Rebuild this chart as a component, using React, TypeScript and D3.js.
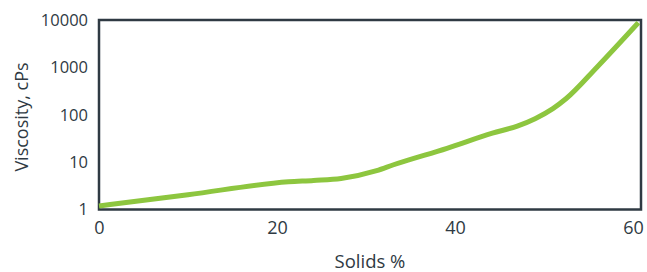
import React, { useEffect, useRef } from 'react';
import * as d3 from 'd3';

// values
const solids = [0, 10, 21.3, 24.1, 27.2, 31.2, 33.1, 39.1, 44.2, 47, 49, 51, 52.5, 56, 60.6];
const viscosity = [1.19, 2.05, 3.84, 4.11, 4.53, 6.6, 8.8, 19.6, 40.9, 57.8, 82.8, 135, 220, 1035, 8800];
const xTicks = [0, 20, 40, 60];
const yTicks = [1, 10, 100, 1000, 10000];

const W = 647;
const H = 272;
const INK = '#2f3a43';
const GREEN = '#8dc63f';
const FONT = '"Open Sans", sans-serif';

const App = () => {
  const svgRef = useRef<SVGSVGElement>(null);

  useEffect(() => {
    const svg = d3.select(svgRef.current);
    svg.selectAll('*').remove();

    const x = d3.scaleLinear().domain([0, 60]).range([99, 633]);
    const y = d3.scaleLog().domain([1, 10000]).range([209.5, 20]);

    // frame around the plot
    svg.append('rect')
      .attr('x', 99)
      .attr('y', 20)
      .attr('width', 641 - 99)
      .attr('height', 209.5 - 20)
      .attr('fill', 'none')
      .attr('stroke', INK)
      .attr('stroke-width', 2.5);

    const points = solids.map((s, i) => [s, viscosity[i]] as [number, number]);
    const line = d3.line<[number, number]>()
      .x(d => x(d[0]))
      .y(d => y(d[1]))
      .curve(d3.curveMonotoneX);

    svg.append('path')
      .attr('d', line(points))
      .attr('fill', 'none')
      .attr('stroke', GREEN)
      .attr('stroke-width', 5)
      .attr('stroke-linejoin', 'round');

    const xAxis = svg.append('g')
      .attr('transform', 'translate(0,221)')
      .call(d3.axisBottom(x).tickValues(xTicks).tickSize(0).tickPadding(0).tickFormat(d3.format('d')));
    xAxis.select('.domain').remove();
    xAxis.selectAll('text')
      .attr('fill', INK)
      .attr('font-family', FONT)
      .attr('font-size', 18);

    const yAxis = svg.append('g')
      .attr('transform', 'translate(88,0)')
      .call(d3.axisLeft(y).tickValues(yTicks).tickSize(0).tickPadding(0).tickFormat(d3.format('d')));
    yAxis.select('.domain').remove();
    yAxis.selectAll('text')
      .attr('fill', INK)
      .attr('font-family', FONT)
      .attr('font-size', 16.5);

    svg.append('text')
      .attr('x', 370)
      .attr('y', 268)
      .attr('text-anchor', 'middle')
      .attr('fill', INK)
      .attr('font-family', FONT)
      .attr('font-size', 18.5)
      .text('Solids %');

    svg.append('text')
      .attr('transform', 'translate(28,117) rotate(-90)')
      .attr('text-anchor', 'middle')
      .attr('fill', INK)
      .attr('font-family', FONT)
      .attr('font-size', 18)
      .text('Viscosity, cPs');
  }, []);

  return (
    <svg ref={svgRef} width={W} height={H} style={{ position: 'absolute', left: 0, top: 0 }}></svg>
  );
};

export default App;
